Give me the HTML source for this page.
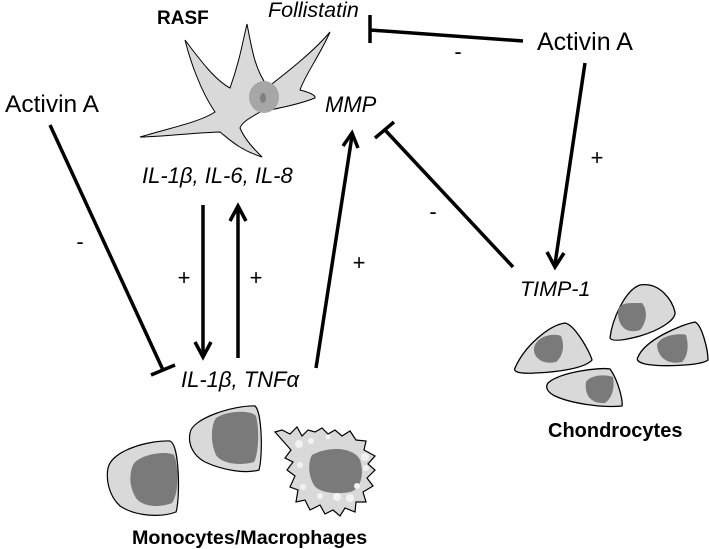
<!DOCTYPE html>
<html><head><style>body{margin:0;background:#fff}svg{display:block}</style></head><body>
<svg width="709" height="549" viewBox="0 0 709 549" xmlns="http://www.w3.org/2000/svg" font-family="Liberation Sans, Arial, sans-serif">
<!-- RASF cell -->
<path d="M140,137 C170,128 200,122 215,112 C200,90 190,60 185,40 C200,60 215,80 230,88 C240,60 243,40 247,24 C252,50 255,70 268,87 C290,70 315,50 330,32 C320,55 305,75 300,90 C308,92 316,95 315,98 C300,104 280,108 260,112 C250,118 242,122 240,128 C245,140 255,150 262,157 C240,150 230,140 220,132 C190,133 160,137 140,137 Z" fill="#d9d9d9" stroke="#000" stroke-width="1"/>
<ellipse cx="264" cy="97" rx="15" ry="16" fill="#a6a6a6"/>
<ellipse cx="263" cy="98" rx="3" ry="5" fill="#808080"/>
<text x="157" y="24" font-size="19" font-weight="bold">RASF</text>
<text x="268" y="17" font-size="21.5" font-style="italic">Follistatin</text>
<text x="537" y="50" font-size="25">Activin A</text>
<text x="5" y="112" font-size="24.5">Activin A</text>
<text x="142" y="183" font-size="22" font-style="italic">IL-1β, IL-6, IL-8</text>
<text x="181" y="387" font-size="22" font-style="italic">IL-1β, TNFα</text>
<text x="325" y="112" font-size="22" font-style="italic">MMP</text>
<text x="520" y="296" font-size="21.5" font-style="italic">TIMP-1</text>
<text x="548" y="437" font-size="20" font-weight="bold">Chondrocytes</text>
<text x="132" y="544" font-size="19.7" font-weight="bold">Monocytes/Macrophages</text>
<g font-size="22" text-anchor="middle">
<text x="80" y="249">-</text>
<text x="458" y="59">-</text>
<text x="433" y="219">-</text>
<text x="184" y="285">+</text>
<text x="256" y="285">+</text>
<text x="359" y="270">+</text>
<text x="597" y="165">+</text>
</g>
<g stroke="#000" stroke-width="3.5" fill="none" stroke-linecap="butt">
<line x1="523" y1="41" x2="370" y2="30"/>
<line x1="370" y1="15" x2="370" y2="43"/>
<line x1="50" y1="125" x2="163" y2="370"/>
<line x1="151" y1="375" x2="175" y2="365"/>
<line x1="513" y1="267" x2="385" y2="130"/>
<line x1="375" y1="138" x2="394" y2="122"/>
<line x1="203" y1="205" x2="203" y2="354"/>
<polyline points="195,342 203,357 211,342"/>
<line x1="238" y1="358" x2="238" y2="209"/>
<polyline points="230,221 238,206 246,221"/>
<line x1="316" y1="368" x2="352" y2="136"/>
<polyline points="343,146 352,133 358,148"/>
<line x1="585" y1="63" x2="555" y2="264"/>
<polyline points="547,252 555,267 564,253"/>
</g>
<!-- Monocytes -->
<g stroke="#000" stroke-width="1.2">
<path d="M108,468 C112,450 150,440 170,441 C180,445 180,500 176,512 C160,518 135,516 120,506 C108,495 106,478 108,468 Z" fill="#d9d9d9"/>
<path d="M133,465 C138,455 165,450 174,455 C180,470 178,495 172,503 C160,508 142,507 136,498 C128,485 130,472 133,465 Z" fill="#7a7a7a" stroke="none"/>
<path d="M190,433 C192,418 235,405 255,406 C262,412 263,455 259,470 C245,474 222,470 205,462 C192,455 188,443 190,433 Z" fill="#d9d9d9"/>
<path d="M216,418 C228,410 252,410 256,416 C260,432 258,455 254,462 C240,466 222,464 216,455 C210,442 211,425 216,418 Z" fill="#7a7a7a" stroke="none"/>
<path d="M275,432 L282,430 L290,434 L297,427 L302,436 L308,430 L315,432 L322,428 L328,434 L335,430 L342,436 L350,431 L356,440 L366,441 L364,450 L375,456 L368,464 L375,470 L367,478 L373,486 L363,492 L366,502 L356,502 L355,512 L345,508 L340,516 L333,510 L325,514 L320,505 L310,510 L305,500 L296,502 L298,490 L290,487 L295,476 L287,470 L293,462 L285,458 L291,450 Z" fill="#d9d9d9"/>
<path d="M312,455 C330,445 355,448 360,460 C365,475 360,490 350,492 C335,495 318,492 314,485 C308,475 308,462 312,455 Z" fill="#7a7a7a" stroke="none"/>
</g>
<g fill="#f2f2f2">
<circle cx="299" cy="444" r="4"/><circle cx="311" cy="441" r="3"/><circle cx="328" cy="437" r="2.5"/><circle cx="365" cy="457" r="4"/><circle cx="366" cy="468" r="3"/><circle cx="300" cy="465" r="3"/><circle cx="303" cy="487" r="3"/><circle cx="357" cy="486" r="3"/><circle cx="337" cy="497" r="4"/><circle cx="350" cy="498" r="4"/><circle cx="320" cy="496" r="3"/>
</g>
<!-- Chondrocytes -->
<g stroke="#000" stroke-width="1.3" fill="#d9d9d9">
<path d="M610,338 C612,320 625,290 640,285 C660,282 672,300 675,312 C676,320 660,330 640,336 C625,340 612,342 610,338 Z"/>
<path d="M638,357 C645,340 680,325 695,322 C702,325 708,350 708,360 C700,366 660,367 645,364 C638,362 636,360 638,357 Z"/>
<path d="M515,368 C525,345 550,325 565,323 C575,325 590,352 592,360 C585,368 560,372 535,373 C520,374 513,372 515,368 Z"/>
<path d="M548,383 C560,372 600,367 610,369 C618,380 623,400 622,406 C600,408 570,403 555,396 C547,392 545,387 548,383 Z"/>
</g>
<g fill="#7a7a7a">
<path d="M618,312 C619,302 628,303 642,303 C648,310 647,322 640,330 C628,334 618,328 618,312 Z"/>
<path d="M657,345 C660,335 680,333 686,335 C689,345 688,356 682,362 C668,365 658,358 657,345 Z"/>
<path d="M534,348 C537,335 555,333 561,336 C565,346 563,356 556,362 C543,365 533,358 534,348 Z"/>
<path d="M586,382 C590,375 605,374 613,377 C615,388 612,398 605,403 C592,404 584,396 586,382 Z"/>
</g>
</svg>
</body></html>
